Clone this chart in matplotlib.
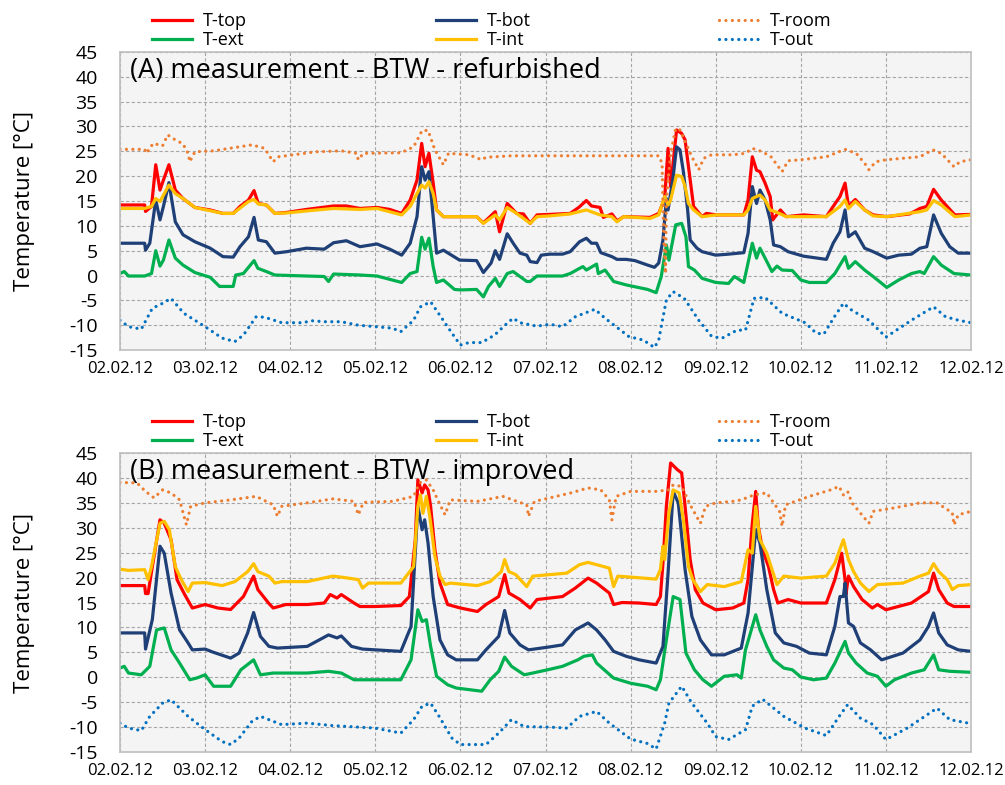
import numpy as np
import matplotlib
matplotlib.use("Agg")
import matplotlib.pyplot as plt

plt.rcParams['font.family'] = ['Open Sans', 'DejaVu Sans']
plt.rcParams['axes.unicode_minus'] = False

# x-Achse: Tage ab 02.02.12
day_labels = ['02.02.12', '03.02.12', '04.02.12', '05.02.12', '06.02.12', '07.02.12',
              '08.02.12', '09.02.12', '10.02.12', '11.02.12', '12.02.12']
y_ticks = [-15, -10, -5, 0, 5, 10, 15, 20, 25, 30, 35, 40, 45]

# (A) refurbished - (Tag, Temperatur)
a_top = [(0, 14.2), (0.29, 14.2), (0.3, 12.9), (0.37, 13.9), (0.42, 22.3), (0.47, 17.2), (0.51, 19.2),
         (0.575, 22.3), (0.65, 17.2), (0.74, 15.5), (0.88, 13.7), (1.06, 13.2), (1.21, 12.5), (1.33, 12.5),
         (1.41, 13.9), (1.51, 15.2), (1.575, 17.1), (1.625, 14.5), (1.72, 14.2), (1.82, 12.5), (1.96, 12.7),
         (2.19, 13.3), (2.51, 14.0), (2.66, 14.0), (2.82, 13.5), (3.02, 13.7), (3.17, 13.3), (3.31, 12.5),
         (3.41, 15.2), (3.49, 19.2), (3.545, 26.6), (3.585, 21.9), (3.63, 24.6), (3.68, 18.6), (3.72, 13.2),
         (3.8, 11.85), (3.99, 11.85), (4.19, 11.85), (4.27, 10.6), (4.41, 12.85), (4.46, 8.8), (4.55, 14.5),
         (4.66, 12.5), (4.74, 12.4), (4.82, 10.5), (4.9, 12.2), (5.05, 12.3), (5.29, 12.5), (5.39, 13.7),
         (5.48, 15.1), (5.54, 14.0), (5.64, 13.7), (5.68, 11.7), (5.78, 12.4), (5.84, 11.0), (5.92, 11.85),
         (6.23, 11.7), (6.33, 12.5), (6.40, 15.5), (6.44, 25.6), (6.47, 17.9), (6.54, 29.3), (6.6, 28.6),
         (6.64, 27.3), (6.68, 21.9), (6.74, 13.9), (6.84, 11.85), (6.89, 12.5), (7.01, 12.2), (7.33, 12.2),
         (7.38, 15.2), (7.43, 23.9), (7.48, 21.2), (7.52, 20.9), (7.58, 18.6), (7.64, 15.9), (7.67, 11.2),
         (7.76, 13.2), (7.83, 11.85), (8.03, 12.2), (8.3, 11.85), (8.38, 13.9), (8.46, 15.9), (8.52, 18.6),
         (8.56, 13.9), (8.64, 15.3), (8.75, 13.2), (8.85, 12.2), (9.01, 11.85), (9.28, 12.4), (9.4, 13.5),
         (9.48, 13.9), (9.56, 17.35), (9.65, 15.2), (9.81, 12.2), (10.0, 12.3)]
a_int = [(0, 13.5), (0.29, 13.5), (0.37, 13.9), (0.42, 15.5), (0.47, 14.9), (0.575, 18.2), (0.65, 16.5),
         (0.74, 15.5), (0.88, 13.7), (1.21, 12.5), (1.33, 12.5), (1.51, 14.9), (1.575, 15.3), (1.625, 14.4),
         (1.72, 14.2), (1.82, 12.5), (1.96, 12.6), (2.19, 13.0), (2.51, 13.5), (2.82, 13.3), (3.02, 13.5),
         (3.31, 12.2), (3.41, 13.9), (3.49, 16.5), (3.545, 18.2), (3.585, 17.6), (3.63, 18.9), (3.68, 16.5),
         (3.72, 13.2), (3.8, 11.85), (4.19, 11.85), (4.27, 10.5), (4.41, 12.2), (4.46, 11.2), (4.55, 13.7),
         (4.66, 12.5), (4.82, 10.5), (4.9, 11.85), (5.05, 12.0), (5.29, 12.4), (5.48, 13.2), (5.64, 12.2),
         (5.78, 11.85), (5.84, 10.8), (5.92, 11.85), (6.23, 11.5), (6.33, 12.2), (6.4, 15.9), (6.44, 14.2),
         (6.47, 15.2), (6.54, 20.2), (6.6, 19.9), (6.64, 17.9), (6.68, 14.5), (6.74, 13.2), (6.84, 11.85),
         (7.01, 12.2), (7.33, 12.2), (7.38, 13.2), (7.43, 15.5), (7.48, 15.9), (7.52, 16.2), (7.58, 15.2),
         (7.64, 13.2), (7.7, 12.85), (7.83, 11.85), (8.3, 11.85), (8.46, 13.9), (8.52, 15.2), (8.56, 13.5),
         (8.64, 14.9), (8.75, 13.2), (8.85, 12.0), (9.01, 11.85), (9.4, 12.85), (9.48, 13.2), (9.56, 15.1),
         (9.65, 14.2), (9.81, 11.85), (10.0, 12.2)]
a_bot = [(0, 6.5), (0.29, 6.5), (0.3, 5.1), (0.35, 6.5), (0.42, 15.2), (0.47, 11.2), (0.51, 13.9),
         (0.575, 18.7), (0.65, 10.8), (0.74, 8.2), (0.88, 6.8), (1.06, 5.5), (1.21, 3.8), (1.33, 3.7),
         (1.41, 5.8), (1.51, 7.8), (1.575, 11.7), (1.625, 7.15), (1.72, 6.8), (1.82, 4.5), (1.96, 4.8),
         (2.19, 5.5), (2.4, 5.3), (2.51, 6.6), (2.66, 7.0), (2.82, 5.8), (3.02, 6.35), (3.17, 5.3),
         (3.31, 4.1), (3.41, 6.5), (3.49, 11.85), (3.545, 21.9), (3.585, 19.2), (3.63, 20.9), (3.68, 11.85),
         (3.72, 4.5), (3.8, 5.1), (3.99, 3.1), (4.19, 3.0), (4.27, 0.6), (4.36, 2.5), (4.41, 5.0), (4.46, 3.25),
         (4.55, 8.4), (4.62, 6.5), (4.7, 4.5), (4.78, 4.1), (4.82, 2.8), (4.9, 2.6), (4.95, 4.1), (5.05, 4.3),
         (5.2, 4.3), (5.29, 4.8), (5.4, 6.8), (5.48, 7.5), (5.54, 6.5), (5.6, 6.5), (5.65, 4.6), (5.78, 3.8),
         (5.84, 3.25), (5.95, 3.25), (6.05, 3.0), (6.2, 2.1), (6.28, 1.65), (6.33, 2.5), (6.38, 7.15),
         (6.42, 15.5), (6.44, 13.2), (6.5, 19.9), (6.54, 25.9), (6.58, 25.3), (6.62, 20.9), (6.67, 13.2),
         (6.7, 7.15), (6.78, 5.5), (6.84, 4.8), (7.0, 4.1), (7.15, 4.3), (7.33, 4.6), (7.38, 8.5), (7.43, 17.9),
         (7.48, 14.5), (7.52, 17.2), (7.58, 15.2), (7.64, 11.2), (7.68, 6.15), (7.76, 5.8), (7.85, 4.8),
         (8.03, 3.9), (8.3, 3.25), (8.38, 6.5), (8.46, 8.8), (8.52, 13.2), (8.56, 7.8), (8.64, 8.8), (8.75, 5.5),
         (8.85, 4.8), (9.01, 3.5), (9.15, 4.1), (9.3, 4.3), (9.4, 5.5), (9.48, 5.8), (9.56, 12.2), (9.65, 8.5),
         (9.75, 5.8), (9.85, 4.5), (10.0, 4.5)]
a_ext = [(0, 0.4), (0.05, 0.8), (0.1, -0.1), (0.29, -0.1), (0.37, 0.4), (0.42, 5.0), (0.47, 1.9), (0.51, 3.1),
         (0.575, 7.15), (0.65, 3.5), (0.74, 2.1), (0.88, 0.6), (1.06, -0.36), (1.17, -2.2), (1.33, -2.2),
         (1.36, 0.1), (1.45, 0.4), (1.575, 3.0), (1.62, 1.45), (1.72, 0.8), (1.82, 0.1), (2.19, -0.1),
         (2.4, -0.2), (2.45, -1.2), (2.51, 0.3), (2.82, 0.1), (3.02, -0.1), (3.31, -1.4), (3.41, 0.4),
         (3.49, 0.8), (3.545, 7.7), (3.585, 5.3), (3.63, 7.5), (3.68, 1.8), (3.72, -1.4), (3.8, -0.9),
         (3.93, -2.8), (4.0, -2.9), (4.19, -2.8), (4.27, -4.3), (4.33, -2.2), (4.41, -0.57), (4.46, -2.2),
         (4.55, 0.4), (4.62, 0.8), (4.7, -0.2), (4.78, -1.2), (4.82, -1.2), (4.9, -0.1), (5.05, -0.1),
         (5.2, -0.1), (5.29, 0.4), (5.38, 1.25), (5.44, 1.8), (5.48, 1.1), (5.6, 2.3), (5.62, 0.4), (5.7, 1.1),
         (5.8, -1.2), (5.95, -1.9), (6.2, -2.8), (6.3, -3.45), (6.36, -0.2), (6.42, 6.15), (6.45, 3.1),
         (6.53, 10.2), (6.6, 10.5), (6.65, 7.8), (6.68, 1.8), (6.75, 1.1), (6.84, -0.57), (7.0, -1.4),
         (7.15, -1.6), (7.22, -0.2), (7.33, -1.4), (7.43, 6.5), (7.48, 3.5), (7.52, 5.5), (7.58, 3.5),
         (7.66, 0.8), (7.72, 1.9), (7.78, 1.1), (7.9, 1.0), (8.0, -0.9), (8.1, -1.4), (8.3, -1.4), (8.4, 0.4),
         (8.52, 3.8), (8.56, 1.45), (8.64, 2.8), (8.75, 1.1), (8.85, -0.2), (9.01, -2.4), (9.15, -0.9),
         (9.3, 0.4), (9.4, 0.8), (9.45, 0.4), (9.56, 3.8), (9.65, 2.1), (9.8, 0.4), (10.0, 0.1)]
a_room = [(0, 25.4), (0.29, 25.4), (0.31, 24.6), (0.39, 26.6), (0.5, 26.1), (0.56, 28.3), (0.65, 27.3),
          (0.74, 26.5), (0.8, 24.6), (0.82, 22.9), (0.88, 24.9), (1.1, 25.1), (1.55, 26.3), (1.7, 25.6),
          (1.8, 22.9), (1.86, 23.9), (1.95, 24.1), (2.3, 24.9), (2.6, 25.1), (2.78, 24.6), (2.8, 23.3),
          (2.86, 24.6), (3.3, 24.7), (3.45, 25.9), (3.55, 29.2), (3.62, 29.2), (3.7, 25.3), (3.8, 22.3),
          (3.86, 24.6), (4.1, 24.3), (4.25, 23.3), (4.3, 23.8), (4.6, 24.1), (5.05, 24.1), (6.33, 24.1),
          (6.37, 22.6), (6.39, 7.15), (6.41, 0.4), (6.42, 15.2), (6.47, 24.6), (6.53, 29.6), (6.58, 29.3),
          (6.65, 26.6), (6.72, 23.9), (6.8, 21.3), (6.86, 23.6), (6.95, 24.3), (7.2, 24.3), (7.35, 24.6),
          (7.43, 25.6), (7.55, 24.9), (7.65, 23.9), (7.78, 20.9), (7.85, 23.1), (8.0, 23.3), (8.3, 23.9),
          (8.52, 25.4), (8.65, 24.6), (8.75, 22.6), (8.8, 21.3), (8.88, 22.9), (9.0, 23.3), (9.4, 23.9),
          (9.55, 25.3), (9.65, 24.6), (9.8, 21.9), (9.87, 22.9), (10.0, 23.3)]
a_out = [(0, -9.0), (0.1, -10.3), (0.25, -10.8), (0.38, -6.6), (0.5, -5.6), (0.6, -4.6), (0.75, -7.6),
         (1.0, -10.3), (1.2, -12.6), (1.35, -13.3), (1.45, -12.0), (1.6, -8.3), (1.7, -8.4), (1.9, -9.5),
         (2.15, -9.5), (2.25, -9.1), (2.4, -9.3), (2.6, -9.3), (2.8, -10.0), (3.0, -10.3), (3.2, -10.6),
         (3.3, -11.3), (3.45, -9.0), (3.53, -6.3), (3.65, -5.3), (3.77, -8.3), (3.9, -11.6), (4.0, -14.0),
         (4.1, -13.5), (4.25, -13.5), (4.4, -12.0), (4.55, -9.6), (4.62, -8.6), (4.7, -9.5), (4.9, -10.2),
         (5.05, -9.8), (5.2, -10.3), (5.35, -8.3), (5.58, -6.8), (5.7, -8.6), (5.98, -12.3), (6.15, -13.0),
         (6.28, -14.5), (6.33, -13.0), (6.42, -4.9), (6.5, -3.25), (6.63, -4.6), (6.8, -9.0), (6.95, -12.2),
         (7.07, -12.65), (7.25, -11.0), (7.35, -11.0), (7.45, -4.6), (7.58, -4.4), (7.78, -7.6), (8.05, -9.5),
         (8.18, -11.6), (8.27, -11.8), (8.4, -8.15), (8.5, -5.6), (8.6, -7.0), (8.8, -9.0), (9.0, -12.4),
         (9.3, -9.0), (9.56, -6.3), (9.7, -8.3), (9.85, -9.0), (10.0, -9.5)]

# (B) improved
b_top = [(0, 18.4), (0.29, 18.4), (0.3, 16.8), (0.33, 16.8), (0.38, 22.2), (0.47, 31.6), (0.52, 30.9),
         (0.6, 27.6), (0.67, 19.6), (0.76, 16.6), (0.85, 13.9), (1.0, 14.6), (1.15, 13.9), (1.3, 13.6),
         (1.45, 16.2), (1.57, 20.3), (1.62, 17.6), (1.75, 14.8), (1.8, 13.9), (1.95, 14.6), (2.2, 14.6),
         (2.4, 14.9), (2.47, 16.6), (2.55, 15.9), (2.6, 16.6), (2.75, 14.9), (2.82, 14.2), (3.0, 14.2),
         (3.3, 14.4), (3.4, 16.2), (3.47, 27.6), (3.5, 39.6), (3.55, 37.0), (3.58, 38.6), (3.62, 37.6),
         (3.65, 34.3), (3.7, 25.6), (3.76, 18.9), (3.85, 14.6), (4.0, 13.9), (4.2, 13.2), (4.3, 14.6),
         (4.45, 16.2), (4.52, 20.6), (4.57, 16.9), (4.7, 15.6), (4.82, 13.9), (4.9, 15.6), (5.05, 15.9),
         (5.2, 16.2), (5.35, 17.9), (5.5, 19.9), (5.6, 18.9), (5.75, 16.9), (5.8, 14.6), (5.9, 15.0),
         (6.1, 14.9), (6.3, 14.6), (6.35, 16.2), (6.38, 22.9), (6.42, 34.3), (6.47, 43.0), (6.55, 41.65),
         (6.6, 41.0), (6.64, 34.3), (6.7, 23.6), (6.76, 17.6), (6.85, 14.9), (7.0, 13.55), (7.2, 13.9),
         (7.33, 14.9), (7.38, 19.6), (7.43, 30.9), (7.47, 37.3), (7.5, 30.3), (7.55, 25.6), (7.62, 22.2),
         (7.68, 17.6), (7.73, 14.9), (7.85, 15.6), (8.0, 14.9), (8.3, 14.9), (8.4, 19.6), (8.48, 24.9),
         (8.52, 19.6), (8.53, 16.6), (8.56, 20.3), (8.62, 18.2), (8.72, 15.6), (8.84, 13.9), (8.9, 14.6),
         (9.0, 13.55), (9.3, 14.9), (9.5, 17.2), (9.56, 20.9), (9.62, 17.6), (9.72, 14.9), (9.8, 14.2),
         (10.0, 14.2)]
b_int = [(0, 21.7), (0.1, 21.45), (0.29, 21.6), (0.33, 19.6), (0.37, 22.2), (0.47, 30.9), (0.52, 31.3),
         (0.58, 29.6), (0.65, 22.2), (0.72, 19.6), (0.8, 17.2), (0.85, 18.9), (1.0, 19.0), (1.2, 18.4),
         (1.35, 19.2), (1.5, 21.2), (1.57, 22.8), (1.62, 21.2), (1.75, 20.3), (1.82, 18.9), (1.9, 19.2),
         (2.2, 19.2), (2.5, 20.3), (2.6, 20.1), (2.8, 19.6), (2.85, 17.9), (2.92, 18.9), (3.3, 18.9),
         (3.45, 22.2), (3.5, 34.3), (3.53, 36.6), (3.56, 32.9), (3.6, 36.3), (3.64, 32.3), (3.7, 24.3),
         (3.76, 20.3), (3.82, 18.6), (3.88, 18.9), (4.2, 18.4), (4.35, 19.2), (4.48, 21.2), (4.52, 23.6),
         (4.57, 21.2), (4.65, 20.6), (4.78, 18.2), (4.85, 20.3), (5.05, 20.6), (5.25, 20.9), (5.4, 22.6),
         (5.5, 23.05), (5.6, 22.6), (5.75, 21.9), (5.8, 18.2), (5.85, 20.3), (6.0, 20.1), (6.3, 19.7),
         (6.35, 21.6), (6.38, 26.3), (6.4, 23.6), (6.45, 33.0), (6.5, 37.6), (6.57, 37.0), (6.62, 31.6),
         (6.68, 22.2), (6.73, 19.6), (6.82, 17.2), (6.9, 18.6), (7.1, 18.2), (7.3, 19.2), (7.38, 25.6),
         (7.43, 24.9), (7.47, 34.3), (7.52, 27.6), (7.6, 24.9), (7.65, 22.2), (7.72, 18.6), (7.8, 20.3),
         (8.0, 19.9), (8.3, 20.3), (8.4, 22.9), (8.5, 27.6), (8.56, 23.6), (8.62, 21.2), (8.7, 18.9),
         (8.8, 17.2), (8.9, 18.6), (9.2, 18.9), (9.4, 20.3), (9.5, 20.9), (9.56, 22.8), (9.62, 21.2),
         (9.72, 19.6), (9.78, 17.6), (9.85, 18.4), (10.0, 18.6)]
b_bot = [(0, 8.9), (0.29, 8.9), (0.3, 5.66), (0.38, 11.6), (0.47, 26.3), (0.52, 24.9), (0.6, 16.9),
         (0.7, 9.5), (0.8, 6.9), (0.85, 5.5), (1.0, 5.66), (1.1, 5.0), (1.3, 3.85), (1.4, 4.86), (1.5, 8.9),
         (1.57, 13.0), (1.65, 8.2), (1.75, 6.2), (1.85, 5.86), (2.2, 6.2), (2.45, 8.5), (2.55, 7.9),
         (2.6, 8.3), (2.72, 6.2), (2.85, 5.66), (3.3, 5.2), (3.42, 10.2), (3.5, 34.3), (3.55, 29.6),
         (3.58, 31.6), (3.62, 26.9), (3.68, 16.2), (3.76, 7.5), (3.85, 4.5), (3.95, 3.5), (4.2, 3.5),
         (4.3, 5.5), (4.45, 8.2), (4.52, 13.4), (4.58, 8.9), (4.7, 6.5), (4.8, 5.5), (5.05, 6.1), (5.2, 6.5),
         (5.35, 9.5), (5.5, 10.9), (5.6, 9.5), (5.7, 7.5), (5.8, 5.2), (5.95, 4.2), (6.1, 3.5), (6.3, 2.85),
         (6.38, 6.2), (6.44, 20.9), (6.5, 37.3), (6.56, 35.0), (6.64, 21.6), (6.72, 12.2), (6.82, 7.5),
         (6.95, 4.5), (7.1, 4.5), (7.3, 5.86), (7.38, 12.9), (7.47, 29.6), (7.52, 26.9), (7.6, 17.6),
         (7.7, 8.9), (7.8, 6.9), (7.95, 6.2), (8.1, 4.86), (8.3, 4.5), (8.4, 10.2), (8.46, 16.2), (8.5, 16.2),
         (8.52, 18.9), (8.56, 10.9), (8.62, 10.2), (8.7, 6.9), (8.82, 5.5), (8.95, 3.5), (9.2, 4.86),
         (9.4, 7.5), (9.5, 10.2), (9.56, 12.9), (9.62, 8.9), (9.72, 6.5), (9.85, 5.5), (10.0, 5.2)]
b_ext = [(0, 1.85), (0.05, 2.2), (0.1, 0.85), (0.25, 0.5), (0.35, 2.2), (0.43, 9.5), (0.52, 9.9), (0.6, 5.5),
         (0.7, 2.85), (0.82, -0.5), (0.9, -0.16), (1.0, 0.5), (1.1, -1.8), (1.3, -1.8), (1.42, 1.5),
         (1.57, 3.5), (1.65, 0.5), (1.8, 0.85), (2.2, 0.85), (2.45, 1.2), (2.6, 0.85), (2.75, -0.5),
         (3.3, -0.5), (3.42, 3.5), (3.5, 13.55), (3.55, 11.2), (3.6, 11.55), (3.65, 6.2), (3.72, 0.2),
         (3.85, -1.5), (3.95, -2.15), (4.25, -2.8), (4.35, -0.5), (4.45, 1.2), (4.52, 4.06), (4.6, 2.2),
         (4.75, 0.5), (4.85, 0.85), (5.05, 1.6), (5.2, 2.2), (5.38, 3.5), (5.45, 4.2), (5.55, 4.5),
         (5.6, 2.85), (5.8, -0.16), (6.0, -1.2), (6.2, -1.8), (6.3, -2.5), (6.35, -0.5), (6.42, 7.5),
         (6.5, 16.2), (6.58, 15.6), (6.65, 4.86), (6.75, 1.5), (6.85, -0.5), (6.95, -1.8), (7.1, 0.2),
         (7.25, 0.5), (7.3, -0.16), (7.35, 5.5), (7.47, 12.55), (7.52, 9.5), (7.6, 6.2), (7.68, 3.5),
         (7.8, 1.85), (7.9, 1.5), (8.0, 0.05), (8.15, -0.5), (8.3, -0.16), (8.4, 2.85), (8.52, 7.2),
         (8.56, 4.86), (8.65, 2.85), (8.78, 0.85), (8.9, 0.2), (9.0, -1.8), (9.1, -0.5), (9.3, 0.85),
         (9.45, 1.5), (9.56, 4.5), (9.62, 1.5), (9.75, 1.2), (10.0, 1.0)]
b_room = [(0, 39.1), (0.2, 39.0), (0.3, 37.3), (0.4, 36.0), (0.5, 37.6), (0.6, 37.0), (0.7, 35.6),
          (0.78, 30.6), (0.83, 34.3), (1.0, 35.0), (1.3, 35.6), (1.6, 36.3), (1.8, 34.6), (1.85, 32.3),
          (1.9, 34.3), (2.2, 35.0), (2.5, 35.8), (2.75, 35.3), (2.8, 32.6), (2.86, 35.1), (3.2, 35.3),
          (3.45, 36.3), (3.52, 39.0), (3.6, 39.6), (3.68, 37.6), (3.75, 35.0), (3.82, 32.6), (3.88, 35.6),
          (4.2, 35.3), (4.5, 36.3), (4.78, 34.6), (4.8, 32.3), (4.87, 35.3), (5.05, 36.0), (5.3, 37.0),
          (5.5, 38.0), (5.65, 37.6), (5.75, 35.6), (5.78, 31.6), (5.83, 36.3), (6.0, 37.3), (6.3, 37.3),
          (6.45, 37.6), (6.5, 38.6), (6.6, 38.3), (6.7, 34.6), (6.82, 30.9), (6.88, 34.3), (7.0, 35.0),
          (7.2, 35.3), (7.3, 35.6), (7.45, 36.6), (7.6, 37.0), (7.75, 33.3), (7.78, 30.3), (7.82, 34.6),
          (8.1, 36.3), (8.35, 37.6), (8.45, 38.3), (8.5, 36.6), (8.55, 37.3), (8.6, 35.0), (8.8, 30.9),
          (8.85, 33.3), (9.1, 34.0), (9.4, 35.0), (9.6, 35.0), (9.78, 33.0), (9.8, 30.6), (9.85, 32.6),
          (10.0, 33.3)]
b_out = [(0, -9.2), (0.1, -10.2), (0.25, -10.7), (0.35, -7.85), (0.5, -5.2), (0.6, -4.5), (0.8, -7.85),
         (1.0, -10.5), (1.2, -12.9), (1.3, -13.5), (1.4, -12.2), (1.55, -8.85), (1.65, -7.85), (1.9, -9.5),
         (2.2, -9.2), (2.5, -9.7), (2.8, -10.0), (3.0, -10.2), (3.3, -11.2), (3.45, -8.5), (3.55, -5.8),
         (3.65, -5.2), (3.75, -7.85), (3.9, -12.2), (4.0, -13.5), (4.3, -13.5), (4.45, -11.2), (4.6, -8.5),
         (4.75, -9.9), (5.05, -10.0), (5.25, -10.2), (5.4, -7.85), (5.6, -6.85), (5.75, -9.2), (6.0, -12.4),
         (6.2, -13.3), (6.3, -14.4), (6.4, -9.2), (6.45, -5.2), (6.6, -1.8), (6.72, -5.2), (6.9, -9.2),
         (7.0, -11.9), (7.15, -12.5), (7.35, -10.5), (7.43, -5.8), (7.55, -4.4), (7.8, -7.85), (8.05, -10.2),
         (8.3, -11.7), (8.45, -7.85), (8.55, -5.5), (8.7, -8.2), (8.85, -9.5), (9.0, -12.5), (9.25, -10.2),
         (9.6, -6.2), (9.75, -8.5), (10.0, -9.3)]

# Farben wie im Excel-Original
dots = (0, (0.01, 2.0))
styles = {
    'T-top':  dict(color='#FF0000', ls='-'),
    'T-ext':  dict(color='#00B050', ls='-'),
    'T-bot':  dict(color='#1F3F77', ls='-'),
    'T-int':  dict(color='#FFC000', ls='-'),
    'T-room': dict(color='#ED7D31', ls=dots),
    'T-out':  dict(color='#0070C0', ls=dots),
}


def panel(ax, data, title):
    lines = {}
    for name in ['T-top', 'T-ext', 'T-bot', 'T-int', 'T-room', 'T-out']:
        d = np.array(data[name])
        st = styles[name]
        lines[name], = ax.plot(d[:, 0], d[:, 1], color=st['color'], linestyle=st['ls'], lw=2.3,
                               dash_capstyle='round', label=name)
    ax.set_xlim(0, 10)
    ax.set_ylim(-15, 45)
    ax.set_facecolor('#F4F4F4')
    ax.set_xticks(range(11))
    ax.set_xticklabels(day_labels, fontsize=12)
    ax.set_yticks(y_ticks)
    ax.set_yticklabels([str(v) for v in y_ticks], fontsize=14)
    ax.tick_params(axis='both', length=0)
    ax.tick_params(axis='y', pad=16)
    ax.tick_params(axis='x', pad=8)
    ax.grid(True, color='#A6A6A6', linestyle=(0, (3, 2)), linewidth=0.8)
    ax.set_axisbelow(True)
    for sp in ax.spines.values():
        sp.set_color('#BFBFBF')
        sp.set_linewidth(1.2)
    ax.set_ylabel('Temperature [°C]', fontsize=16)
    ax.yaxis.set_label_coords(-0.1, 0.5)
    ax.text(0.012, 0.935, title, transform=ax.transAxes, fontsize=19.5, va='center', ha='left')
    return lines


fig = plt.figure(figsize=(10.05, 7.85), dpi=100)
ax1 = fig.add_axes([0.1194, 0.5541, 0.8468, 0.3797])
ax2 = fig.add_axes([0.1194, 0.0420, 0.8468, 0.3809])

la = panel(ax1, {'T-top': a_top, 'T-ext': a_ext, 'T-bot': a_bot, 'T-int': a_int,
                 'T-room': a_room, 'T-out': a_out}, '(A) measurement - BTW - refurbished')
lb = panel(ax2, {'T-top': b_top, 'T-ext': b_ext, 'T-bot': b_bot, 'T-int': b_int,
                 'T-room': b_room, 'T-out': b_out}, '(B) measurement - BTW - improved')

# Legende in drei Spalten ueber jedem Diagramm
cols = [('T-top', 'T-ext'), ('T-bot', 'T-int'), ('T-room', 'T-out')]
col_x = [0.1512, 0.4338, 0.7154]
for lines, y in [(la, 0.9611), (lb, 0.4503)]:
    for (n1, n2), x in zip(cols, col_x):
        fig.legend([lines[n1], lines[n2]], [n1, n2], loc='center left', bbox_to_anchor=(x, y),
                   frameon=False, fontsize=13, borderpad=0, borderaxespad=0, handlelength=2.2,
                   handletextpad=0.6, labelspacing=0.05)

fig.savefig('out.png', dpi=100)
